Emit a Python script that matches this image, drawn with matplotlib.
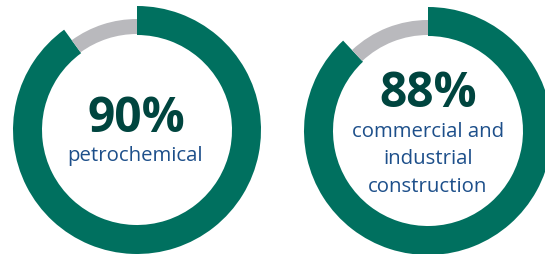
import matplotlib.pyplot as plt

# share values (percent) and labels
shares = [90, 88]
numbers = ["90%", "88%"]
labels = ["petrochemical", "commercial and\nindustrial\nconstruction"]

green = "#00705f"
grey = "#b9b9bd"
dark = "#00453f"
blue = "#1d4f8a"

W, H = 545, 255
fig = plt.figure(figsize=(W / 100, H / 100), dpi=100)
ax = fig.add_axes([0, 0, 1, 1])

# donut centres in pixel coords (y from top)
centres = [(137, 131), (428, 132)]

for share, num, lab, (cx, cy) in zip(shares, numbers, labels, centres):
    c = (cx, H - cy)
    rest = 100 - share
    # green arc (thick)
    ax.pie([share, rest], center=c, radius=124, startangle=90, counterclock=False,
           colors=[green, "none"], wedgeprops=dict(width=29, linewidth=0))
    # grey remainder (thinner)
    ax.pie([share, rest], center=c, radius=111, startangle=90, counterclock=False,
           colors=["none", grey], wedgeprops=dict(width=15, linewidth=0))

# big numbers and labels
ax.text(136, H - 132, numbers[0], ha="center", va="baseline", fontsize=34.5,
        fontweight="bold", color=dark, family="Open Sans")
ax.text(135, H - 161, labels[0], ha="center", va="baseline", fontsize=14.7,
        color=blue, family="Open Sans")

ax.text(428, H - 107, numbers[1], ha="center", va="baseline", fontsize=34.5,
        fontweight="bold", color=dark, family="Open Sans")
for i, line in enumerate(labels[1].split("\n")):
    ax.text(428, H - (137 + 27.5 * i), line, ha="center", va="baseline", fontsize=14.7,
            color=blue, family="Open Sans")

ax.set_xlim(0, W)
ax.set_ylim(0, H)
ax.set_aspect("equal")
ax.axis("off")

fig.savefig("out.png", dpi=100)
